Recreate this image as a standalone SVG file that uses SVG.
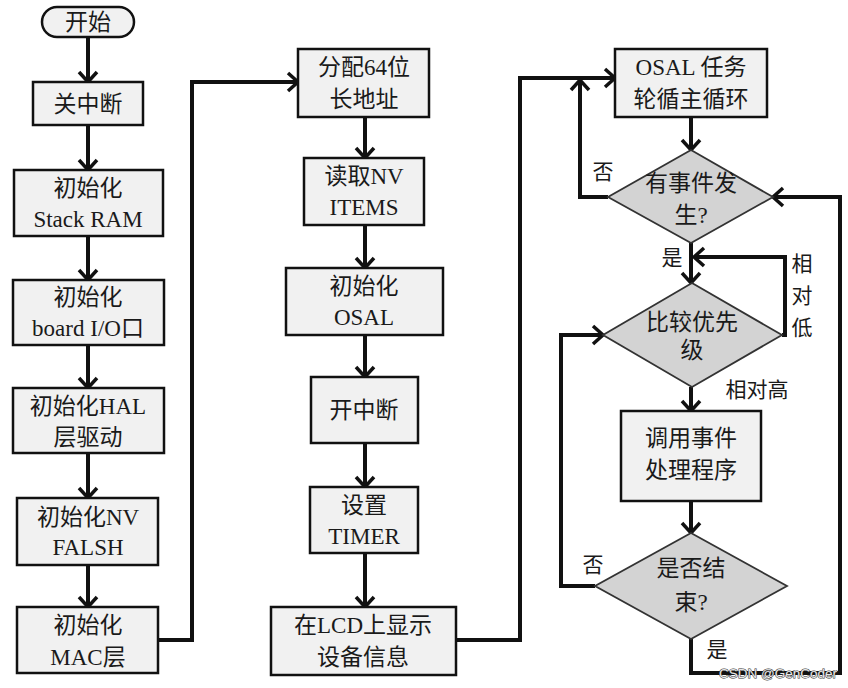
<svg xmlns="http://www.w3.org/2000/svg" width="848" height="688" viewBox="0 0 848 688">
<style>
.box{fill:#f1f1f1;stroke:#111;stroke-width:2.5}
.dia{fill:#d3d3d3;stroke:#333;stroke-width:1.8}
.t{font-family:"Liberation Serif","Noto Sans CJK SC",serif;font-size:23px;fill:#1a1a1a;text-anchor:middle;dominant-baseline:central}
.lbl{font-family:"Liberation Serif","Noto Sans CJK SC",serif;font-size:21px;fill:#1a1a1a;text-anchor:middle;dominant-baseline:central}
.c{fill:none;stroke:#111;stroke-width:4;stroke-linejoin:miter}
.wm{font-family:"Liberation Sans",sans-serif;font-size:13.5px;fill:#e8e8e8;stroke:#333;stroke-width:1;paint-order:stroke;text-anchor:start;dominant-baseline:central}
</style>
<defs>
<marker id="a" markerUnits="userSpaceOnUse" markerWidth="24" markerHeight="24" viewBox="0 0 24 24" refX="12" refY="12" orient="auto">
<path d="M2,3 L12,12 L2,21" fill="none" stroke="#111" stroke-width="3.5"/>
</marker>
</defs>
<g id="connectors">
<path class="c" d="M88 37 V82" marker-end="url(#a)"/>
<path class="c" d="M88 125 V170" marker-end="url(#a)"/>
<path class="c" d="M88 236 V280" marker-end="url(#a)"/>
<path class="c" d="M88 345 V388" marker-end="url(#a)"/>
<path class="c" d="M88 453 V498" marker-end="url(#a)"/>
<path class="c" d="M88 565 V607" marker-end="url(#a)"/>
<path class="c" d="M158 640 H192 V82 H298" marker-end="url(#a)"/>
<path class="c" d="M365 117 V158" marker-end="url(#a)"/>
<path class="c" d="M365 225 V268" marker-end="url(#a)"/>
<path class="c" d="M365 335 V377" marker-end="url(#a)"/>
<path class="c" d="M365 443 V487" marker-end="url(#a)"/>
<path class="c" d="M365 553 V607" marker-end="url(#a)"/>
<path class="c" d="M456 640 H520 V78 H615" marker-end="url(#a)"/>
<path class="c" d="M691 117 V150" marker-end="url(#a)"/>
<path class="c" d="M608 197 H580 V80" marker-end="url(#a)"/>
<path class="c" d="M691 243 V283" marker-end="url(#a)"/>
<path class="c" d="M782 335 H785 V257 H694" marker-end="url(#a)"/>
<path class="c" d="M691 387 V411" marker-end="url(#a)"/>
<path class="c" d="M691 501 V533" marker-end="url(#a)"/>
<path class="c" d="M595 586 H561 V335 H603" marker-end="url(#a)"/>
<path class="c" d="M691 639 V673 H840 V197 H773" marker-end="url(#a)"/>
</g>
<g id="start"><rect class="box" x="42" y="7" width="92" height="30" rx="15"/><text class="t" x="88" y="22">开始</text></g>
<g id="n1"><rect class="box" x="33" y="82" width="110" height="43"/><text class="t" x="88" y="104">关中断</text></g>
<g id="n2"><rect class="box" x="14" y="170" width="149" height="66"/><text class="t" x="88" y="188">初始化</text><text class="t" x="88" y="219">Stack RAM</text></g>
<g id="n3"><rect class="box" x="13" y="280" width="151" height="65"/><text class="t" x="88" y="297">初始化</text><text class="t" x="88" y="328">board I/O口</text></g>
<g id="n4"><rect class="box" x="13" y="388" width="151" height="65"/><text class="t" x="88" y="406">初始化HAL</text><text class="t" x="88" y="437">层驱动</text></g>
<g id="n5"><rect class="box" x="17" y="498" width="141" height="67"/><text class="t" x="88" y="517">初始化NV</text><text class="t" x="88" y="547">FALSH</text></g>
<g id="n6"><rect class="box" x="17" y="607" width="141" height="66"/><text class="t" x="88" y="625">初始化</text><text class="t" x="88" y="657">MAC层</text></g>
<g id="n7"><rect class="box" x="298" y="49" width="131" height="68"/><text class="t" x="364" y="67">分配64位</text><text class="t" x="364" y="99">长地址</text></g>
<g id="n8"><rect class="box" x="304" y="158" width="120" height="67"/><text class="t" x="364" y="176">读取NV</text><text class="t" x="364" y="207">ITEMS</text></g>
<g id="n9"><rect class="box" x="286" y="268" width="157" height="67"/><text class="t" x="364" y="286">初始化</text><text class="t" x="364" y="317">OSAL</text></g>
<g id="n10"><rect class="box" x="311" y="377" width="107" height="66"/><text class="t" x="364" y="410">开中断</text></g>
<g id="n11"><rect class="box" x="310" y="487" width="108" height="66"/><text class="t" x="364" y="505">设置</text><text class="t" x="364" y="536">TIMER</text></g>
<g id="n12"><rect class="box" x="271" y="607" width="185" height="68"/><text class="t" x="363" y="625">在LCD上显示</text><text class="t" x="363" y="657">设备信息</text></g>
<g id="n13"><rect class="box" x="615" y="49" width="152" height="68"/><text class="t" x="691" y="67">OSAL 任务</text><text class="t" x="691" y="99">轮循主循环</text></g>
<g id="d1"><polygon class="dia" points="691,150 773,197 691,243 608,197"/><text class="t" x="691" y="183">有事件发</text><text class="t" x="691" y="215">生?</text></g>
<g id="d2"><polygon class="dia" points="692,283 782,335 692,387 603,335"/><text class="t" x="692" y="322">比较优先</text><text class="t" x="692" y="350">级</text></g>
<g id="n14"><rect class="box" x="621" y="411" width="140" height="90"/><text class="t" x="691" y="438">调用事件</text><text class="t" x="691" y="470">处理程序</text></g>
<g id="d3"><polygon class="dia" points="691,533 787,586 691,639 595,586"/><text class="t" x="691" y="568">是否结</text><text class="t" x="691" y="602">束?</text></g>
<g id="labels">
<text class="lbl" x="603" y="172">否</text>
<text class="lbl" x="672" y="258">是</text>
<text class="lbl" x="802" y="264">相</text>
<text class="lbl" x="802" y="296">对</text>
<text class="lbl" x="802" y="328">低</text>
<text class="lbl" x="757" y="390">相对高</text>
<text class="lbl" x="593" y="565">否</text>
<text class="lbl" x="717" y="650">是</text>
<text class="wm" x="719" y="673">CSDN @GenCoder</text>
</g>
</svg>
